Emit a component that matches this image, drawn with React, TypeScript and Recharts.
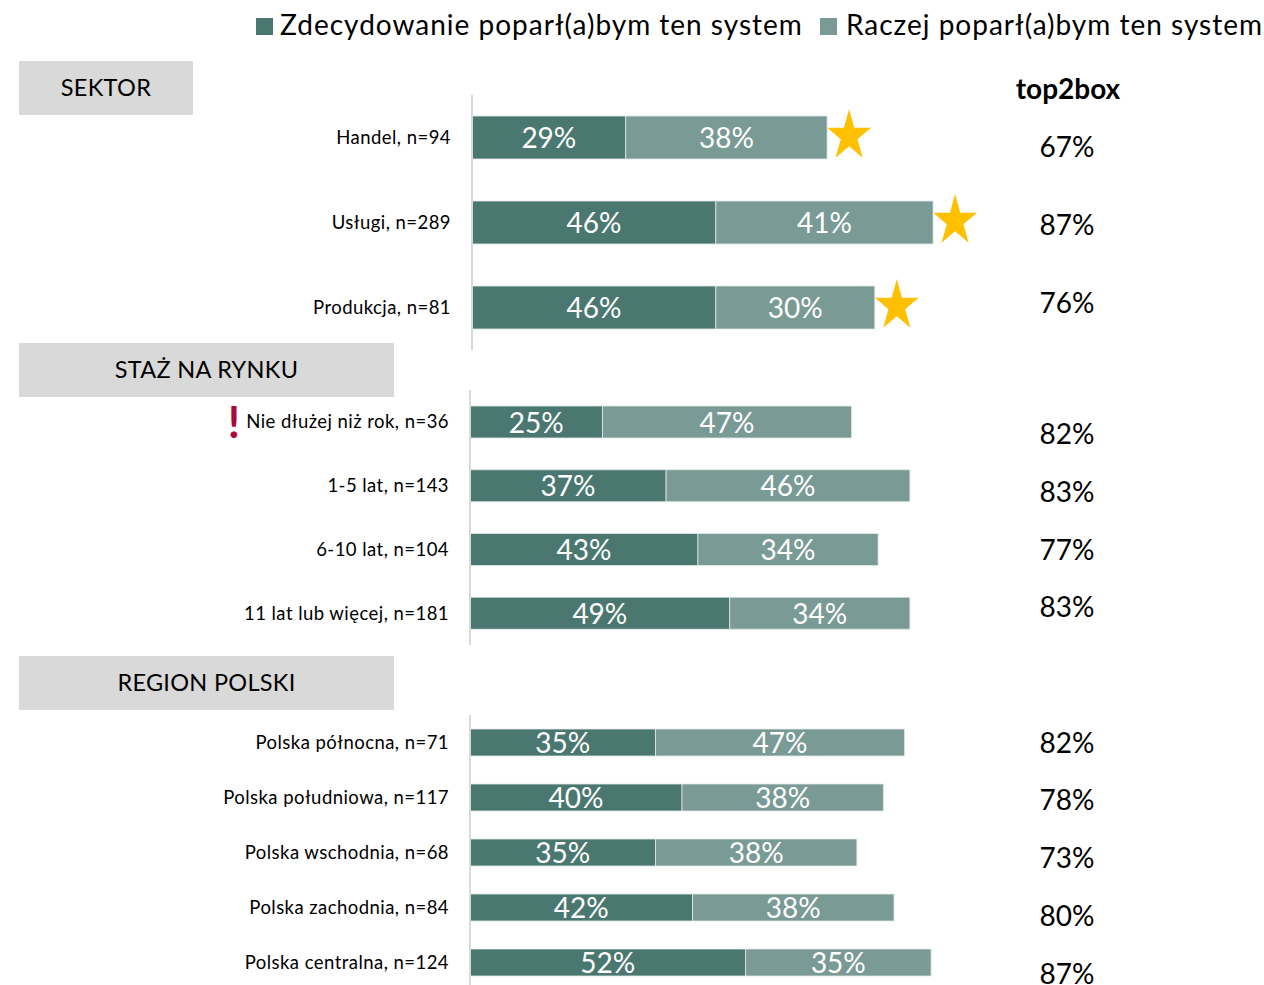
import React from 'react';
import { BarChart, Bar, XAxis, YAxis, LabelList } from 'recharts';

const DARK = '#4A7770';
const LIGHT = '#7A9A95';
const GOLD = '#FFC000';
const HEADER_BG = '#D9D9D9';
const FLAG = '#A8093F';
const FONT = 'Lato, "Open Sans", sans-serif';

const seriesNames = ['Zdecydowanie poparł(a)bym ten system', 'Raczej poparł(a)bym ten system'];
const sectionTitles = ['SEKTOR', 'STAŻ NA RYNKU', 'REGION POLSKI'];
const top2Title = 'top2box';

const sektorCategories = ['Handel, n=94', 'Usługi, n=289', 'Produkcja, n=81'];
const sektorStrong = [29, 46, 46];
const sektorRather = [38, 41, 30];
const sektorTop2 = [67, 87, 76];

const stazCategories = ['Nie dłużej niż rok, n=36', '1-5 lat, n=143', '6-10 lat, n=104', '11 lat lub więcej, n=181'];
const stazStrong = [25, 37, 43, 49];
const stazRather = [47, 46, 34, 34];
const stazTop2 = [82, 83, 77, 83];

const regionCategories = [
  'Polska północna, n=71',
  'Polska południowa, n=117',
  'Polska wschodnia, n=68',
  'Polska zachodnia, n=84',
  'Polska centralna, n=124',
];
const regionStrong = [35, 40, 35, 42, 52];
const regionRather = [47, 38, 38, 38, 35];
const regionTop2 = [82, 78, 73, 80, 87];

const starredCategories = ['Handel, n=94', 'Usługi, n=289', 'Produkcja, n=81'];
const flaggedCategories = ['Nie dłużej niż rok, n=36'];

type Row = { name: string; strong: number; rather: number; top2: number };

const buildRows = (cats: string[], strong: number[], rather: number[], top2: number[]): Row[] =>
  cats.map((name, i) => ({ name, strong: strong[i], rather: rather[i], top2: top2[i] }));

const sektorRows = buildRows(sektorCategories, sektorStrong, sektorRather, sektorTop2);
const stazRows = buildRows(stazCategories, stazStrong, stazRather, stazTop2);
const regionRows = buildRows(regionCategories, regionStrong, regionRather, regionTop2);

const TOP2_X = 1067;
const PLOT_W = 530;
const CHART_W = 1264;

const getBox = (p: any) => {
  const vb = p.viewBox && p.viewBox.width !== undefined ? p.viewBox : p;
  return { x: Number(vb.x), y: Number(vb.y), width: Number(vb.width), height: Number(vb.height) };
};

const renderInBar = (p: any) => {
  const { x, y, width, height } = getBox(p);
  return (
    <text
      x={x + width / 2}
      y={y + height / 2 + 10.5}
      textAnchor="middle"
      fontSize={28}
      fontFamily={FONT}
      fill="#FFFFFF"
    >
      {`${p.value}%`}
    </text>
  );
};

const makeTop2Renderer = (base: number, step: number) => (p: any) => {
  const { y, height } = getBox(p);
  const idx = Number(p.index) || 0;
  return (
    <text
      x={TOP2_X}
      y={y + height / 2 + base + idx * step}
      textAnchor="middle"
      fontSize={28}
      fontFamily={FONT}
      fill="#000000"
    >
      {`${p.value}%`}
    </text>
  );
};

const starPoints = (cx: number, cy: number, rx: number, ry: number) => {
  const pts: string[] = [];
  for (let k = 0; k < 10; k++) {
    const a = ((-90 + k * 36) * Math.PI) / 180;
    const r = k % 2 === 0 ? 1 : 0.382;
    pts.push(`${cx + rx * r * Math.cos(a)},${cy + ry * r * Math.sin(a)}`);
  }
  return pts.join(' ');
};

const makeStarRenderer = (rows: Row[]) => (p: any) => {
  const { x, y, width, height } = getBox(p);
  const idx = Number(p.index) || 0;
  if (!rows[idx] || !starredCategories.includes(rows[idx].name)) return null;
  const end = x + width;
  return <polygon points={starPoints(end + 22, y + height / 2 - 1.5, 23, 27)} fill={GOLD} />;
};

const CategoryTick = (props: any) => {
  const { x, y, payload } = props;
  const label = String(payload?.value ?? '');
  const flagged = flaggedCategories.includes(label);
  return (
    <g>
      <text
        x={x - 21}
        y={y + 6.5}
        textAnchor="end"
        fontSize={18.5}
        letterSpacing={0.45}
        fontFamily={FONT}
        fill="#000000"
      >
        {label}
      </text>
      {flagged && (
        <text x={x - 236} y={y + 16} textAnchor="middle" fontSize={44} fontWeight={700} fontFamily={FONT} fill={FLAG}>
          !
        </text>
      )}
    </g>
  );
};

type GroupProps = {
  rows: Row[];
  top: number;
  height: number;
  axisX: number;
  barSize: number;
  t2Base: number;
  t2Step: number;
  stars?: boolean;
};

const Group = ({ rows, top, height, axisX, barSize, t2Base, t2Step, stars }: GroupProps) => (
  <div style={{ position: 'absolute', left: 0, top }}>
    <BarChart
      layout="vertical"
      width={CHART_W}
      height={height}
      data={rows}
      margin={{ top: 0, right: CHART_W - axisX - PLOT_W, bottom: 0, left: 0 }}
    >
      <XAxis type="number" domain={[0, 100]} hide />
      <YAxis
        type="category"
        dataKey="name"
        width={axisX}
        axisLine={{ stroke: '#D9D9D9', strokeWidth: 2 }}
        tickLine={false}
        tickSize={0}
        tickMargin={0}
        interval={0}
        tick={<CategoryTick />}
      />
      <Bar
        dataKey="strong"
        stackId="s"
        fill={DARK}
        barSize={barSize}
        stroke="#E2EAE8"
        strokeWidth={0.8}
        isAnimationActive={false}
      >
        <LabelList dataKey="strong" content={renderInBar} />
      </Bar>
      <Bar
        dataKey="rather"
        stackId="s"
        fill={LIGHT}
        barSize={barSize}
        stroke="#E2EAE8"
        strokeWidth={0.8}
        isAnimationActive={false}
      >
        <LabelList dataKey="rather" content={renderInBar} />
        <LabelList dataKey="top2" content={makeTop2Renderer(t2Base, t2Step)} />
        {stars && <LabelList dataKey="top2" content={makeStarRenderer(rows)} />}
      </Bar>
    </BarChart>
  </div>
);

const SectionHeader = ({ text, left, top, width, height }: { text: string; left: number; top: number; width: number; height: number }) => (
  <div
    style={{
      position: 'absolute',
      left,
      top,
      width,
      height,
      background: HEADER_BG,
      display: 'flex',
      alignItems: 'center',
      justifyContent: 'center',
      fontFamily: FONT,
      fontSize: 23.5,
      letterSpacing: 0.3,
      color: '#000',
      lineHeight: 1,
    }}
  >
    {text}
  </div>
);

export default function App() {
  return (
    <div
      style={{
        position: 'absolute',
        left: 0,
        top: 0,
        width: 1264,
        height: 985,
        overflow: 'hidden',
        background: '#FFFFFF',
        fontFamily: FONT,
      }}
    >
      <svg width={1264} height={110} style={{ position: 'absolute', left: 0, top: 0 }}>
        <rect x={256} y={18} width={17} height={17} fill={DARK} />
        <text x={280} y={35} fontSize={28} letterSpacing={1} fontFamily={FONT} fill="#000">
          {seriesNames[0]}
        </text>
        <rect x={820} y={18} width={17} height={17} fill={LIGHT} />
        <text x={846} y={35} fontSize={28} letterSpacing={1} fontFamily={FONT} fill="#000">
          {seriesNames[1]}
        </text>
        <text x={1068} y={99} textAnchor="middle" fontSize={28} fontWeight={700} fontFamily={FONT} fill="#000">
          {top2Title}
        </text>
      </svg>

      <SectionHeader text={sectionTitles[0]} left={19} top={61} width={174} height={54} />
      <SectionHeader text={sectionTitles[1]} left={19} top={343} width={375} height={54} />
      <SectionHeader text={sectionTitles[2]} left={19} top={656} width={375} height={54} />

      <Group rows={sektorRows} top={95} height={255} axisX={472} barSize={43} t2Base={19.5} t2Step={-7} stars />
      <Group rows={stazRows} top={390} height={255} axisX={470} barSize={32} t2Base={22} t2Step={-6} />
      <Group rows={regionRows} top={715} height={275} axisX={470} barSize={27} t2Base={10} t2Step={2.75} />
    </div>
  );
}
